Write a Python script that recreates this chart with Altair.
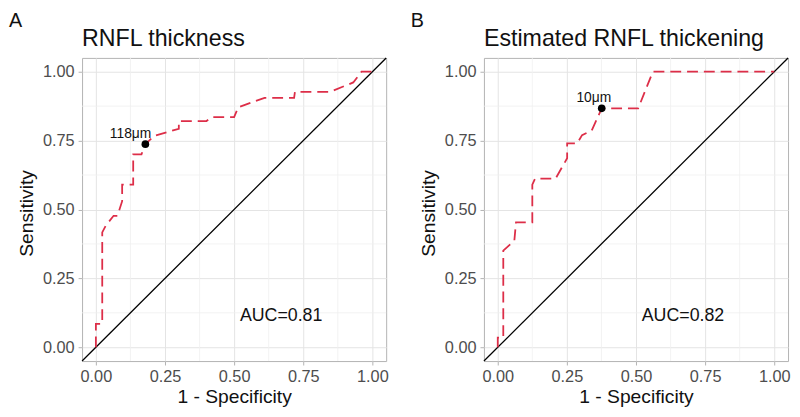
import altair as alt
import pandas as pd

# ---- data ----
TICKS = [0.0, 0.25, 0.5, 0.75, 1.0]
DOMAIN = [-0.05, 1.05]

A_fpr = [0.00, 0.00, 0.023, 0.023, 0.035, 0.064, 0.078, 0.095, 0.095, 0.135, 0.135,
         0.165, 0.172, 0.179, 0.21, 0.30, 0.30, 0.40, 0.42, 0.50, 0.515, 0.61,
         0.717, 0.72, 0.848, 0.931, 0.961, 0.979, 1.00]
A_tpr = [0.00, 0.085, 0.085, 0.417, 0.44, 0.477, 0.477, 0.53, 0.59, 0.59, 0.70,
         0.70, 0.72, 0.737, 0.767, 0.793, 0.821, 0.821, 0.835, 0.835, 0.871, 0.905,
         0.905, 0.927, 0.927, 0.961, 1.0, 1.0, 1.0]

B_fpr = [0.00, 0.00, 0.02, 0.02, 0.06, 0.066, 0.125, 0.125, 0.135, 0.209, 0.251,
         0.251, 0.287, 0.305, 0.34, 0.376, 0.508, 0.561, 1.00]
B_tpr = [0.00, 0.035, 0.035, 0.351, 0.387, 0.453, 0.453, 0.59, 0.612, 0.612, 0.686,
         0.74, 0.74, 0.77, 0.787, 0.867, 0.867, 1.0, 1.0]

A_cut = [0.179, 0.737]
B_cut = [0.376, 0.867]
A_cut_label = "118μm"
B_cut_label = "10μm"
A_auc = "AUC=0.81"
B_auc = "AUC=0.82"
A_title = "RNFL thickness"
B_title = "Estimated RNFL thickening"
AUC_pos = [0.67, 0.115]

RED = "#dd2e48"
FONT = "Liberation Sans"


def minor_ticks(t):
    return [(a + b) / 2 for a, b in zip(t[:-1], t[1:])]


def X(field):
    return alt.X(
        f"{field}:Q",
        scale=alt.Scale(domain=DOMAIN, nice=False, zero=False),
        axis=alt.Axis(
            values=TICKS, format=".2f", grid=True, gridColor="#e4e4e4", gridWidth=1,
            domain=False, tickColor="#b3b3b3", tickSize=4, tickWidth=1,
            labelPadding=4, labelFontSize=16.5, labelColor="#4d4d4d", labelFlush=False,
            title="1 - Specificity", titleFontSize=19.5, titleFontWeight="normal",
            titleColor="#111111", titleY=42, titleBaseline="alphabetic",
        ),
    )


def Y(field):
    return alt.Y(
        f"{field}:Q",
        scale=alt.Scale(domain=DOMAIN, nice=False, zero=False),
        axis=alt.Axis(
            values=TICKS, format=".2f", grid=True, gridColor="#e4e4e4", gridWidth=1,
            domain=False, tickColor="#b3b3b3", tickSize=4, tickWidth=1,
            labelPadding=4, labelFontSize=16.5, labelColor="#4d4d4d", labelFlush=False,
            title="Sensitivity", titleFontSize=19.5, titleFontWeight="normal",
            titleColor="#111111", titleX=-56, titleY=157, titleAngle=270,
            titleBaseline="middle",
        ),
    )


def panel(fpr, tpr, cut, cut_label, auc, title, letter, ldx, ldy):
    minor = pd.DataFrame({"v": minor_ticks(TICKS)})
    curve = pd.DataFrame({"fpr": fpr, "tpr": tpr, "i": list(range(len(fpr)))})
    diag = pd.DataFrame({"d": DOMAIN})
    pt = pd.DataFrame({"fpr": [cut[0]], "tpr": [cut[1]], "lab": [cut_label]})
    aucd = pd.DataFrame({"fpr": [AUC_pos[0]], "tpr": [AUC_pos[1]], "lab": [auc]})
    ttl = pd.DataFrame({"t": [title]})
    let = pd.DataFrame({"t": [letter]})

    minor_x = alt.Chart(minor).mark_rule(color="#f0f0f0", strokeWidth=0.8).encode(x=X("v"))
    minor_y = alt.Chart(minor).mark_rule(color="#f0f0f0", strokeWidth=0.8).encode(y=Y("v"))
    diag_l = alt.Chart(diag).mark_line(color="black", strokeWidth=1.3).encode(x=X("d"), y=Y("d"))
    curve_l = alt.Chart(curve).mark_line(color=RED, strokeWidth=1.8, strokeDash=[11, 6]).encode(
        x=X("fpr"), y=Y("tpr"), order="i:Q")
    point = alt.Chart(pt).mark_point(filled=True, color="black", size=60, opacity=1).encode(
        x=X("fpr"), y=Y("tpr"))
    plab = alt.Chart(pt).mark_text(fontSize=14, color="#111111", dx=ldx, dy=ldy,
                                   baseline="middle", align="center").encode(
        x=X("fpr"), y=Y("tpr"), text="lab:N")
    auc_t = alt.Chart(aucd).mark_text(fontSize=18, color="#111111", baseline="middle",
                                      align="center").encode(
        x=X("fpr"), y=Y("tpr"), text="lab:N")
    ttl_t = alt.Chart(ttl).mark_text(fontSize=23.5, color="#111111", align="left",
                                     baseline="alphabetic").encode(
        x=alt.value(0), y=alt.value(-12), text="t:N")
    let_t = alt.Chart(let).mark_text(fontSize=20, color="#111111", align="left",
                                     baseline="alphabetic").encode(
        x=alt.value(-74), y=alt.value(-31), text="t:N")
    return alt.layer(minor_x, minor_y, diag_l, curve_l, point, plab, auc_t, ttl_t, let_t).properties(
        width=308, height=307)


pa = panel(A_fpr, A_tpr, A_cut, A_cut_label, A_auc, A_title, "A", -15, -10)
pb = panel(B_fpr, B_tpr, B_cut, B_cut_label, B_auc, B_title, "B", -8, -10)

chart = alt.hconcat(pa, pb, spacing=20).properties(
    padding={"left": 0, "top": 0, "right": 0, "bottom": 0}
).configure(font=FONT).configure_view(stroke="#b3b3b3", strokeWidth=1)

chart.save("out.html", embed_options={"renderer": "svg", "actions": False})
